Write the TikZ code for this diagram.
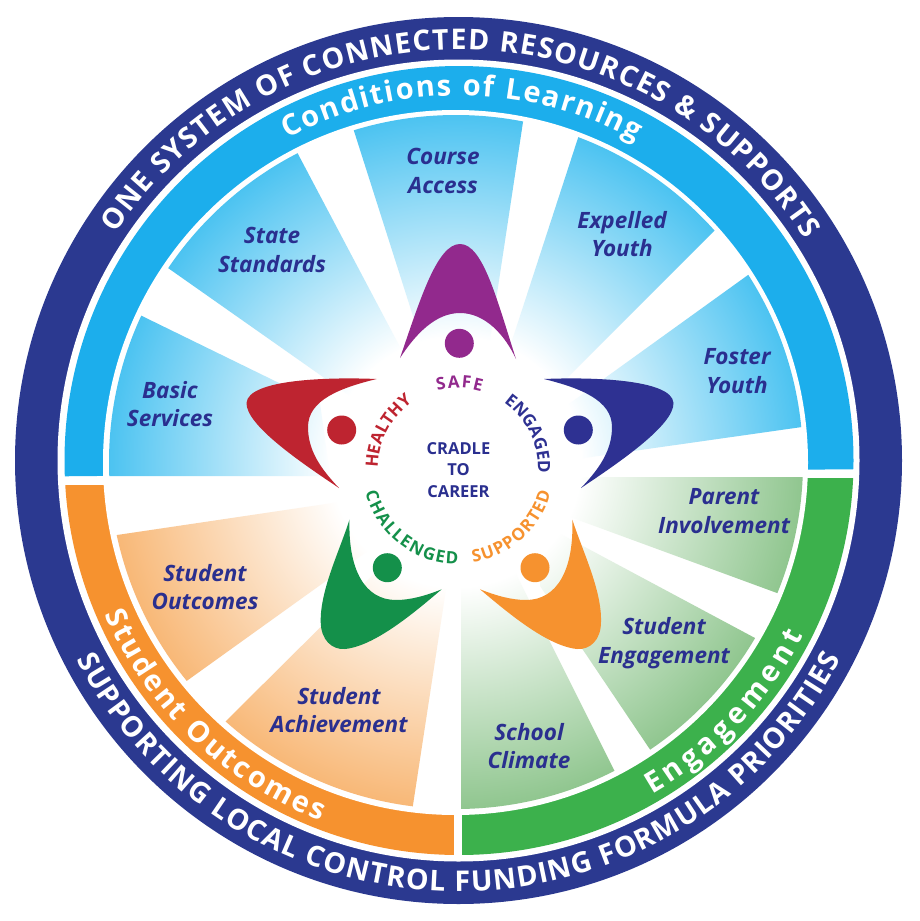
\documentclass[tikz,border=0pt]{standalone}
\usepackage{fontspec}
\setmainfont{Open Sans}
\usetikzlibrary{calc,decorations.text}
\definecolor{navyring}{HTML}{2B3990}
\definecolor{skyband}{HTML}{1CAEEC}
\definecolor{orangeband}{HTML}{F6922F}
\definecolor{greenband}{HTML}{3CB14C}
\definecolor{skywedge}{HTML}{4CC3F1}
\definecolor{orangewedge}{HTML}{F8B877}
\definecolor{greenwedge}{HTML}{90C68F}
\definecolor{labelnavy}{HTML}{2A2F8F}
\definecolor{figpurple}{HTML}{92298D}
\definecolor{fignavy}{HTML}{2E3192}
\definecolor{figred}{HTML}{BE2430}
\definecolor{figgreen}{HTML}{14904A}
\definecolor{figorange}{HTML}{F6922F}
\pgfdeclareradialshading{wblue}{\pgfpoint{0bp}{0bp}}{color(0bp)=(white);color(9bp)=(white);color(25bp)=(skywedge);color(50bp)=(skywedge)}
\pgfdeclareradialshading{worange}{\pgfpoint{0bp}{0bp}}{color(0bp)=(white);color(9bp)=(white);color(25bp)=(orangewedge);color(50bp)=(orangewedge)}
\pgfdeclareradialshading{wgreen}{\pgfpoint{0bp}{0bp}}{color(0bp)=(white);color(9bp)=(white);color(25bp)=(greenwedge);color(50bp)=(greenwedge)}
\newcommand{\sectorfill}[5]{%
  \begin{scope}
    \clip (#2)--($(#2)!1.5!(#3)$)--($(#5)!1.5!(#4)$)--(#5)--cycle;
    \shade[shading=#1] (w) circle (347pt);
  \end{scope}}
\newcommand{\ringfont}{\fontsize{28.5}{28.5}\selectfont\bfseries\color{white}}
\newcommand{\bandfont}{\fontsize{29}{29}\selectfont\bfseries\color{white}}
\newcommand{\smallarc}[1]{\fontsize{17}{17}\selectfont\bfseries\color{#1}}
\tikzset{
  lab/.style={font=\fontsize{22.5}{28.5}\selectfont\bfseries\itshape,text=labelnavy,align=center,inner sep=0pt},
  arctext/.style={decorate},
}
\begin{document}
\begin{tikzpicture}[x=1pt,y=-1pt]
\useasboundingbox (0,0) rectangle (920,921);
\fill[white] (0,0) rectangle (920,921);
\coordinate (c) at (458.5,460.5);
\coordinate (b) at (459,460.5);
\coordinate (i) at (455.5,462.5);
\coordinate (w) at (456,462);
\coordinate (m) at (458,468);
% rings
\fill[navyring] (c) circle (443.5pt);
\fill[white] (c) circle (401pt);
\begin{scope}
  \clip (b) circle (394.5pt);
  \fill[skyband] (40,476.5)--(880,469)--(880,0)--(40,0)--cycle;
  \fill[orangeband] (40,484.5)--(453.5,484.5)--(453.5,900)--(40,900)--cycle;
  \fill[greenband] (461.7,478)--(880,478)--(880,900)--(461.7,900)--cycle;
\end{scope}
\fill[white] (i) circle (352.5pt);
% wedges
\sectorfill{wblue}{320,403}{142,316}{110,476}{330,476}
\sectorfill{wblue}{400,347}{298,154}{168,268}{370,410}
\sectorfill{wblue}{427,360}{354,131}{523,122}{490,340}
\sectorfill{wblue}{505,362}{578,138}{715,230}{530,415}
\sectorfill{wblue}{555,414}{748,275}{802,427}{570,460}
\sectorfill{wgreen}{540,477}{803,477}{777,593}{540,506}
\sectorfill{wgreen}{540,523}{755,638}{649,748}{540,586}
\sectorfill{wgreen}{500,542}{614,770}{461.5,808}{461.5,520}
\sectorfill{worange}{452,550}{413,805}{227,720}{380,568}
\sectorfill{worange}{390,535}{188,680}{117,535}{400,493}
% figures
\fill[figpurple] (400,358) .. controls (420,300) and (437,244) .. (460,244) .. controls (483,244) and (497,300) .. (516,359) .. controls (505,335) and (485,313) .. (460,313) .. controls (435,313) and (415,335) .. (400,358) -- cycle;
\fill[figpurple] (459.3,343.3) circle (14.5pt);
\fill[fignavy] (544,379) .. controls (590,377) and (672,379) .. (673.5,403) .. controls (674,425) and (620,462) .. (581,488) .. controls (600,468) and (612,450) .. (612,427) .. controls (612,400) and (580,388) .. (544,379) -- cycle;
\fill[fignavy] (578.3,430) circle (14.5pt);
\fill[figred] (376.5,379) .. controls (330,377) and (248,379) .. (246.5,403) .. controls (246,425) and (300,462) .. (339,488) .. controls (320,468) and (308,450) .. (308,427) .. controls (308,400) and (340,388) .. (376.5,379) -- cycle;
\fill[figred] (341.7,430) circle (14.5pt);
\fill[figgreen] (349.5,519.5) .. controls (340,550) and (320,590) .. (320.7,622) .. controls (321,640) and (332,650) .. (345,649) .. controls (375,646) and (415,612) .. (441.7,589.3) .. controls (425,596) and (410,600) .. (396,600) .. controls (365,600) and (348,570) .. (349.5,519.5) -- cycle;
\fill[figgreen] (387.3,567.7) circle (14.5pt);
\fill[figorange] (572.3,519.5) .. controls (582,550) and (602,590) .. (601,622) .. controls (601,640) and (590,650) .. (577,649) .. controls (547,646) and (507,612) .. (480,589.3) .. controls (497,596) and (512,600) .. (526,600) .. controls (557,600) and (574,570) .. (572.3,519.5) -- cycle;
\fill[figorange] (535,567.7) circle (14.5pt);
% ring texts
\path[arctext,decoration={text along path,text align=fit to path,text={|\ringfont|ONE SYSTEM OF CONNECTED RESOURCES {\&} SUPPORTS}}]
  ($(c)+(146.5:411pt)$) arc[start angle=146.5,end angle=32.5,radius=411pt];
\path[arctext,decoration={text along path,text align=fit to path,text={|\ringfont|SUPPORTING LOCAL CONTROL FUNDING FORMULA PRIORITIES}}]
  ($(c)+(207.5:431pt)$) arc[start angle=207.5,end angle=332.5,radius=431pt];
\path[arctext,decoration={text along path,text align=fit to path,text={|\bandfont|Conditions of Learning}}]
  ($(b)+(118:365pt)$) arc[start angle=118,end angle=61,radius=365pt];
\path[arctext,decoration={text along path,text align=fit to path,text={|\bandfont|Student Outcomes}}]
  ($(b)+(203.5:386pt)$) arc[start angle=203.5,end angle=249,radius=386pt];
\path[arctext,decoration={text along path,text align=fit to path,text={|\bandfont|Engagement}}]
  ($(b)+(300:386pt)$) arc[start angle=300,end angle=333,radius=386pt];
% labels
\node[lab] (course) at (443,171) {Course\\Access};
\node[lab] (state) at (272,250) {State\\Standards};
\node[lab] (expelled) at (622,234) {Expelled\\Youth};
\node[lab] (foster) at (737,371) {Foster\\Youth};
\node[lab] (basic) at (170,404) {Basic\\Services};
\node[lab] (parent) at (724,511) {Parent\\Involvement};
\node[lab] (engage) at (664,643) {Student\\Engagement};
\node[lab] (climate) at (529,746) {School\\Climate};
\node[lab] (achieve) at (339,710) {Student\\Achievement};
\node[lab] (outcomes) at (205,587) {Student\\Outcomes};
% centre
\node[font=\fontsize{16.5}{21.8}\selectfont\bfseries,text=labelnavy,align=center,inner sep=0pt] (cradle) at (458.5,470) {CRADLE\\TO\\CAREER};
\path[arctext,decoration={text along path,text align=fit to path,text={|\smallarc{figpurple}|SAFE}}]
  ($(m)+(105:80pt)$) arc[start angle=105,end angle=73,radius=80pt];
\path[arctext,decoration={text along path,text align=fit to path,text={|\smallarc{fignavy}|ENGAGED}}]
  ($(m)+(55:80pt)$) arc[start angle=55,end angle=0,radius=80pt];
\path[arctext,decoration={text along path,text align=fit to path,text={|\smallarc{figred}|HEALTHY}}]
  ($(m)+(180:80pt)$) arc[start angle=180,end angle=128,radius=80pt];
\path[arctext,decoration={text along path,text align=fit to path,text={|\smallarc{figgreen}|CHALLENGED}}]
  ($(m)+(195:96pt)$) arc[start angle=195,end angle=270,radius=96pt];
\path[arctext,decoration={text along path,text align=fit to path,text={|\smallarc{figorange}|SUPPORTED}}]
  ($(m)+(279:96pt)$) arc[start angle=279,end angle=345,radius=96pt];
\end{tikzpicture}
\end{document}
